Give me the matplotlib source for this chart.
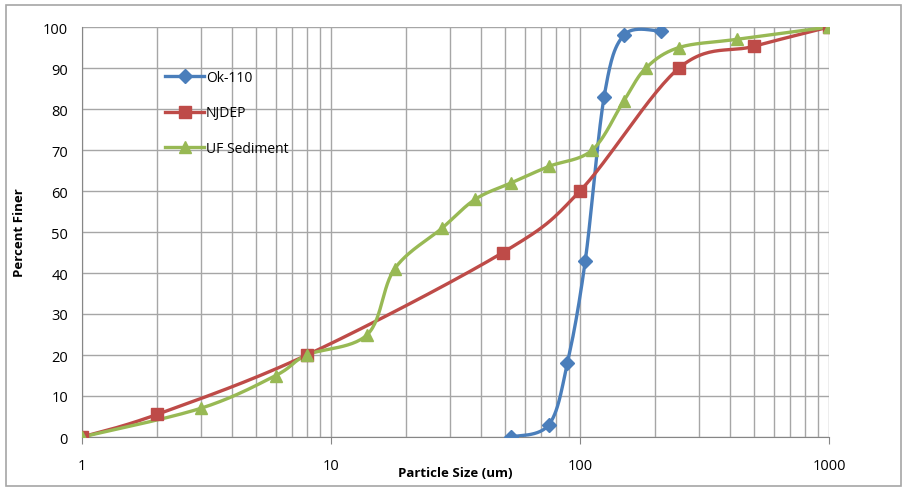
import numpy as np
import matplotlib
matplotlib.use("Agg")
import matplotlib.pyplot as plt
from matplotlib.ticker import FixedLocator, NullFormatter

plt.rcParams["font.family"] = ["Open Sans", "DejaVu Sans"]

# Data
ok_size = [53, 75, 89, 105, 125, 150, 212]
ok_finer = [0, 3, 18, 43, 83, 98, 99]

nj_size = [1, 2, 8, 49, 100, 250, 500, 1000]
nj_finer = [0, 5.5, 20, 45, 60, 90, 95.3, 100]

uf_size = [1, 3, 6, 8, 14, 18, 28, 38, 53, 75, 112, 150, 184, 250, 427, 1000]
uf_finer = [0, 7, 15, 20, 25, 41, 51, 58, 62, 66, 70, 82, 90, 95, 97, 100]

series_names = ["Ok-110", "NJDEP", "UF Sediment"]
colors = ["#4A7EBB", "#BE4B48", "#98B954"]
markers = ["D", "s", "^"]
msizes = [7, 9, 9]


def smooth(xs, ys, n=30):
    # Catmull-Rom through the points, done roughly in screen space
    u = np.log10(np.asarray(xs, float)) * 249.0
    v = np.asarray(ys, float) * 4.1
    p = np.column_stack([u, v])
    p = np.vstack([p[0], p, p[-1]])
    out = []
    for i in range(1, len(p) - 2):
        p0, p1, p2, p3 = p[i - 1], p[i], p[i + 1], p[i + 2]
        c1 = p1 + (p2 - p0) / 6.0
        c2 = p2 - (p3 - p1) / 6.0
        t = np.linspace(0, 1, n)[:, None]
        seg = ((1 - t) ** 3) * p1 + 3 * ((1 - t) ** 2) * t * c1 \
            + 3 * (1 - t) * t ** 2 * c2 + t ** 3 * p2
        out.append(seg if i == 1 else seg[1:])
    pts = np.vstack(out)
    return 10 ** (pts[:, 0] / 249.0), pts[:, 1] / 4.1


fig = plt.figure(figsize=(9.04, 4.89), dpi=100)
fig.patches.append(plt.Rectangle((0.007, 0.004), 0.99, 0.984, transform=fig.transFigure,
                                 fill=False, edgecolor="#A6A6A6", linewidth=1.2))
ax = fig.add_axes([82 / 904, 1 - 438 / 489, (829 - 82) / 904, (438 - 28) / 489])

data = [(ok_size, ok_finer), (nj_size, nj_finer), (uf_size, uf_finer)]
for (xs, ys), name, c, m, ms in zip(data, series_names, colors, markers, msizes):
    sx, sy = smooth(xs, ys)
    ax.plot(sx, sy, color=c, linewidth=2.4, zorder=3)
    ax.plot(xs, ys, linestyle="none", marker=m, markersize=ms, color=c,
            markeredgecolor=c, zorder=4)
    ax.plot([], [], color=c, linewidth=2.4, marker=m, markersize=ms, label=name)

ax.set_xscale("log")
ax.set_xlim(1, 1000)
ax.set_ylim(0, 100)
ax.set_yticks(range(0, 101, 10))
ax.xaxis.set_major_locator(FixedLocator([1, 10, 100, 1000]))
ax.set_xticklabels(["1", "10", "100", "1000"])
minors = [k * 10 ** d for d in range(3) for k in range(2, 10)]
ax.xaxis.set_minor_locator(FixedLocator(minors))
ax.xaxis.set_minor_formatter(NullFormatter())

ax.grid(True, which="both", axis="x", color="#A6A6A6", linewidth=1.0)
ax.grid(True, which="major", axis="y", color="#A6A6A6", linewidth=1.0)
ax.set_axisbelow(True)
for s in ["top", "right"]:
    ax.spines[s].set_visible(False)
for s in ["left", "bottom"]:
    ax.spines[s].set_color("#868686")
ax.tick_params(axis="both", which="both", length=0, labelsize=10.5, colors="#000000")
ax.tick_params(axis="x", which="major", length=5, direction="out", color="#868686", pad=10)
ax.tick_params(axis="y", pad=10)

ax.set_xlabel("Particle Size (um)", fontsize=9.5, fontweight="bold")
ax.xaxis.set_label_coords(0.5, -0.07)
ax.set_ylabel("Percent Finer", fontsize=9.5, fontweight="bold", labelpad=12)

ax.legend(loc="upper left", bbox_to_anchor=(0.095, 0.925), frameon=False,
          fontsize=10, handlelength=2.8, handletextpad=0.1, labelspacing=1.45)

fig.savefig("out.png", dpi=100)
